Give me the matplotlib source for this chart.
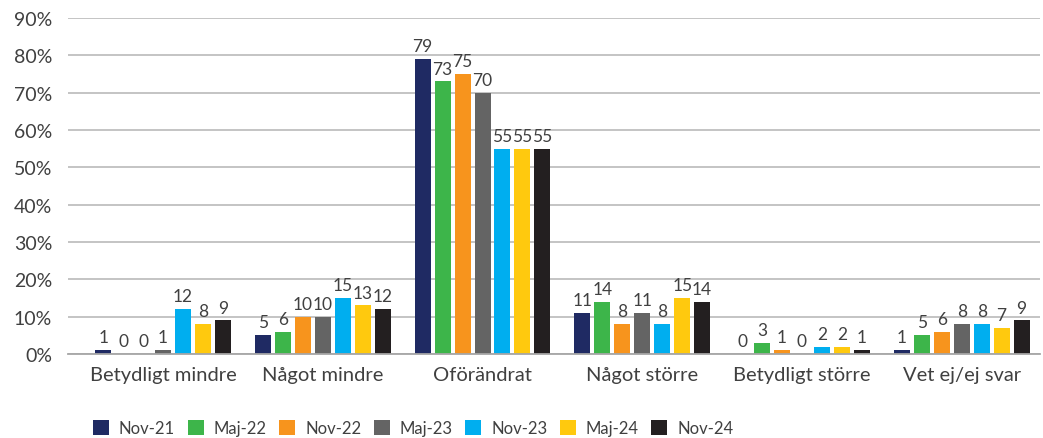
import matplotlib
matplotlib.use("Agg")
import matplotlib.pyplot as plt
from matplotlib.patches import Patch
import numpy as np

plt.rcParams['font.family'] = ['Lato', 'DejaVu Sans']

categories = ["Betydligt mindre", "Något mindre", "Oförändrat", "Något större",
              "Betydligt större", "Vet ej/ej svar"]
series_names = ["Nov-21", "Maj-22", "Nov-22", "Maj-23", "Nov-23", "Maj-24", "Nov-24"]
nov21 = [1, 5, 79, 11, 0, 1]
maj22 = [0, 6, 73, 14, 3, 5]
nov22 = [0, 10, 75, 8, 1, 6]
maj23 = [1, 10, 70, 11, 0, 8]
nov23 = [12, 15, 55, 8, 2, 8]
maj24 = [8, 13, 55, 15, 2, 7]
nov24 = [9, 12, 55, 14, 1, 9]
values = [nov21, maj22, nov22, maj23, nov23, maj24, nov24]
colors = ["#1F2A63", "#3DB54A", "#F7941D", "#646464", "#00AEEF", "#FFC90E", "#231F20"]
yticks = [0, 10, 20, 30, 40, 50, 60, 70, 80, 90]

fig = plt.figure(figsize=(10.43, 4.39), dpi=100)
ax = fig.add_axes([68/1043, 1-355/439, (1040-68)/1043, (355-19)/439])

x = np.arange(len(categories))
step = 0.125
width = 0.1
n = len(series_names)
for i, (name, vals, c) in enumerate(zip(series_names, values, colors)):
    pos = x + (i - (n-1)/2) * step
    ax.bar(pos, vals, width=width, color=c, label=name, zorder=3)
    for p, v in zip(pos, vals):
        ax.text(p, v + 1.3, str(v), ha='center', va='bottom', fontsize=12.5,
                color='#404040', zorder=4)

ax.set_xlim(-0.595, 5.49)
ax.set_ylim(0, 90)
ax.set_yticks(yticks)
ax.set_yticklabels([f"{t}%" for t in yticks], fontsize=14, color='#404040')
ax.set_xticks(x)
ax.set_xticklabels(categories, fontsize=14.5, color='#404040')
ax.tick_params(axis='both', length=0)
ax.tick_params(axis='y', pad=11.5)
ax.tick_params(axis='x', pad=9)
ax.grid(axis='y', color='#BFBFBF', linewidth=1.3, zorder=0)
for s in ['top', 'right', 'left']:
    ax.spines[s].set_visible(False)
ax.spines['bottom'].set_color('#A6A6A6')
ax.spines['bottom'].set_linewidth(1.3)
ax.spines['bottom'].set_zorder(5)

handles = [Patch(facecolor=c, label=nm) for nm, c in zip(series_names, colors)]
fig.legend(handles=handles, loc='center left', bbox_to_anchor=(93/1043, 1-429/439),
           ncol=7, frameon=False, fontsize=12, handlelength=0.96, handleheight=0.96,
           handletextpad=0.6, columnspacing=0.75, borderpad=0, borderaxespad=0,
           labelcolor='#404040')

fig.savefig("out.png", dpi=100)
